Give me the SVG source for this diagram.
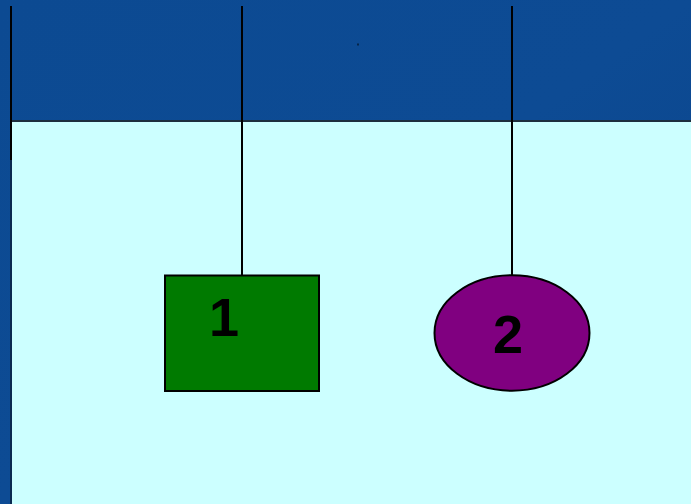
<svg xmlns="http://www.w3.org/2000/svg" width="691" height="504" viewBox="0 0 691 504">
<defs>
<style>
.lbl{font-family:"Liberation Sans",Arial,sans-serif;font-weight:bold;font-size:54px;fill:#000;text-anchor:middle}
.wire{stroke:#000;stroke-width:2;fill:none}
</style>
<linearGradient id="bg" x1="0" y1="0" x2="1" y2="1">
<stop offset="0" stop-color="#0c4a92"/>
<stop offset="0.5" stop-color="#0d4b94"/>
<stop offset="1" stop-color="#0a4389"/>
</linearGradient>
</defs>
<rect x="0" y="0" width="691" height="504" fill="url(#bg)"/>
<rect x="11" y="121" width="680" height="383" fill="#ccffff"/>
<line x1="10" y1="121" x2="691" y2="121" stroke="#1c2e3e" stroke-width="2"/>
<line x1="11" y1="121" x2="11" y2="504" stroke="#0a2a50" stroke-width="2"/>
<rect x="357.5" y="43.5" width="1" height="2" fill="#000"/>
<g id="connectors">
<line class="wire" x1="11" y1="6" x2="11" y2="160"/>
<line class="wire" x1="242" y1="6" x2="242" y2="275"/>
<line class="wire" x1="512" y1="6" x2="512" y2="275"/>
</g>
<g id="node1">
<rect x="165" y="275.5" width="154" height="115.5" fill="#007a00" stroke="#000" stroke-width="2"/>
<text class="lbl" x="224" y="336">1</text>
</g>
<g id="node2">
<ellipse cx="512" cy="333" rx="77.5" ry="57.7" fill="#800080" stroke="#000" stroke-width="2"/>
<text class="lbl" x="508" y="353">2</text>
</g>
</svg>
